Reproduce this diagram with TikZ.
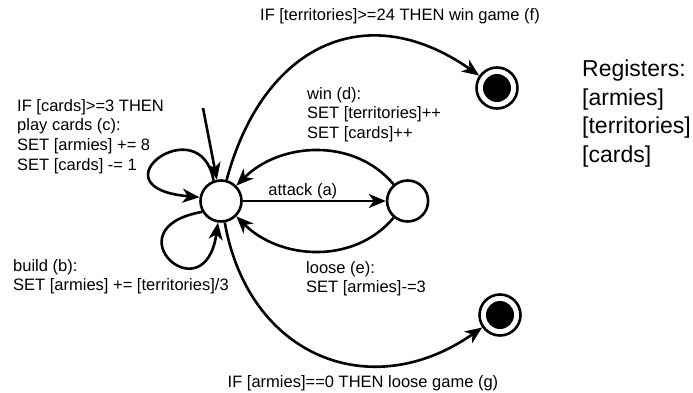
\documentclass[tikz,border=0pt]{standalone}
\usepackage{fontspec}
\setmainfont{Liberation Sans}
\usepackage{tikz}
\usetikzlibrary{arrows.meta, positioning}
\tikzset{
  state/.style={circle, draw=black, line width=2.6pt, minimum size=41pt, inner sep=0pt},
  final/.style={state, path picture={\fill[black] (path picture bounding box.center) circle (14pt);}},
  trans/.style={-{Stealth[length=17pt, width=14pt, inset=5pt]}, line width=2.6pt},
  rule/.style={font=\fontsize{16.5}{19.8}\selectfont, align=left, inner sep=0pt},
  regs/.style={font=\fontsize{23}{28.5}\selectfont, align=left, inner sep=0pt},
}

\begin{document}
\begin{tikzpicture}[x=1pt, y=1pt, node distance=143pt]
  \useasboundingbox (0,0) rectangle (693,392);

  %% ---- STATES ----
  \node[state] (main) at (221,191) {};
  \node[state, right=of main] (attacked) {};
  \node[final] (winF) at (497,304) {};
  \node[final] (loseF) at (500,77) {};
  \coordinate (start) at (203,284);

  %% ---- TRANSITIONS ----
  \draw[trans] (start) -- (main);
  \draw[trans] (main) -- node[rule, above=1pt, pos=0.42] (atk) {attack (a)} (attacked);
  \draw[trans] (attacked) to[out=130, in=45] (main);
  \draw[trans] (attacked) to[out=-130, in=-45] (main);
  \draw[trans] (main.110) .. controls +(100:75) and +(175:110) .. (main.170);
  \draw[trans] (main.210) .. controls +(190:95) and +(262:95) .. (main.262);
  \draw[trans] (main) to[out=75, in=145, looseness=1.3] (winF);
  \draw[trans] (main) to[out=-80, in=-145, looseness=1.25] (loseF);

  %% ---- LABELS ----
  \node[rule, anchor=base] (lblF) at (400,371) {IF [territories]>=24 THEN win game (f)};
  \node[rule, anchor=base] (lblG) at (363,5) {IF [armies]==0 THEN loose game (g)};
  \node[rule, anchor=north west] (lblC) at (17,293)
    {IF [cards]>=3 THEN\\play cards (c):\\SET [armies] += 8\\SET [cards] -= 1};
  \node[rule, anchor=north west] (lblB) at (13,133)
    {build (b):\\SET [armies] += [territories]/3};
  \node[rule, anchor=north west] (lblD) at (307,305)
    {win (d):\\SET [territories]++\\SET [cards]++};
  \node[rule, anchor=north west] (lblE) at (306,131)
    {loose (e):\\SET [armies]-=3};
  \node[regs, anchor=north west] (regs) at (582,332)
    {Registers:\\{[armies]}\\{[territories]}\\{[cards]}};

\end{tikzpicture}
\end{document}
